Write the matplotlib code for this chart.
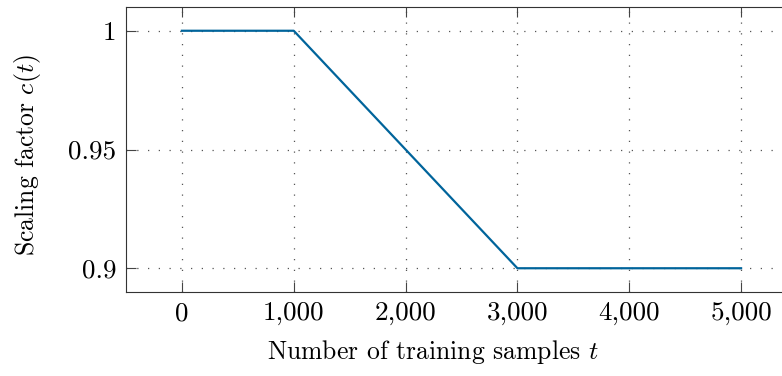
import matplotlib
matplotlib.use('Agg')
import matplotlib.pyplot as plt
from matplotlib.ticker import FuncFormatter

# schedule of the scaling factor
samples = [0, 1000, 3000, 5000]
factor = [1.0, 1.0, 0.9, 0.9]
xticks = [0, 1000, 2000, 3000, 4000, 5000]
yticks = [0.9, 0.95, 1.0]

plt.rcParams['font.family'] = ['cmr10', 'DejaVu Serif']
plt.rcParams['mathtext.fontset'] = 'cm'
plt.rcParams['axes.unicode_minus'] = False

W, H = 782, 376
fig = plt.figure(figsize=(W / 100, H / 100), dpi=100)
# axes runs past the right edge of the picture (cropped like the original)
left, right, top, bottom = 126, 797, 7, 292
ax = fig.add_axes([left / W, (H - bottom) / H, (right - left) / W, (bottom - top) / H])

ax.plot(samples, factor, color='#00649b', linewidth=1.6)

ax.set_xlim(-500, 5500)
ax.set_ylim(0.89, 1.01)
ax.set_xticks(xticks)
ax.set_yticks(yticks)
ax.xaxis.set_major_formatter(FuncFormatter(lambda v, p: f'{v:,.0f}'))
ax.yaxis.set_major_formatter(FuncFormatter(lambda v, p: f'{v:g}'))

ax.grid(True, color='#555555', linestyle=(0, (1, 7.6)), linewidth=0.9)
ax.tick_params(direction='in', length=7, width=0.8, color='#444444',
               top=True, right=True, labelsize=19.5, pad=7)
for s in ax.spines.values():
    s.set_linewidth(0.8)
    s.set_color('#333333')

ax.set_xlabel(r'Number of training samples $t$', fontsize=18.5)
ax.set_ylabel(r'Scaling factor $c(t)$', fontsize=18.5)
aw, ah = right - left, bottom - top
ax.xaxis.set_label_coords((433 - left) / aw, (bottom - 352) / ah)
ax.xaxis.label.set_va('center')
ax.yaxis.set_label_coords((28 - left) / aw, (bottom - 155) / ah)
ax.yaxis.label.set_va('center')

fig.savefig('out.png', dpi=100)
